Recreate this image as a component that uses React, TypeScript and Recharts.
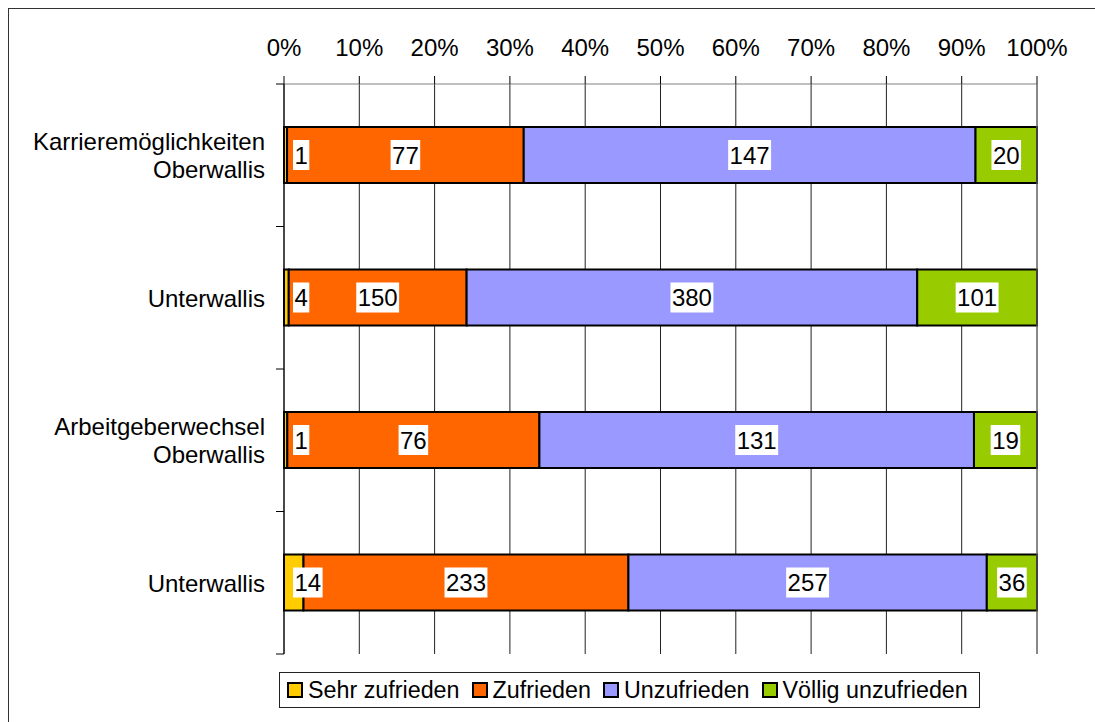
import { Bar, BarChart, CartesianGrid, LabelList, ReferenceLine, XAxis, YAxis } from "recharts";

const categories = [
  "Karrieremöglichkeiten\nOberwallis",
  "Unterwallis",
  "Arbeitgeberwechsel\nOberwallis",
  "Unterwallis",
];
const sehrZufrieden = [1, 4, 1, 14];
const zufrieden = [77, 150, 76, 233];
const unzufrieden = [147, 380, 131, 257];
const voelligUnzufrieden = [20, 101, 19, 36];
const xTicks = [0, 0.1, 0.2, 0.3, 0.4, 0.5, 0.6, 0.7, 0.8, 0.9, 1];

const series = [
  { key: "sehr", name: "Sehr zufrieden", color: "#FFCC00" },
  { key: "zufrieden", name: "Zufrieden", color: "#FF6600" },
  { key: "unzufrieden", name: "Unzufrieden", color: "#9999FF" },
  { key: "voellig", name: "Völlig unzufrieden", color: "#99CC00" },
];

const data = categories.map((name, i) => ({
  name,
  sehr: sehrZufrieden[i],
  zufrieden: zufrieden[i],
  unzufrieden: unzufrieden[i],
  voellig: voelligUnzufrieden[i],
}));

const FONT = '"Liberation Sans", Arial, sans-serif';
const FS = 24;
const PLOT_LEFT = 284;
const BAND = 142.5;

function CategoryTick({ x, y, payload, index }: any) {
  const lines = String(payload.value).split("\n");
  const lh = 28;
  const y0 = y - ((lines.length - 1) * lh) / 2;
  return (
    <g>
      <line x1={x - 8} x2={x} y1={y - BAND / 2} y2={y - BAND / 2} stroke="#000" />
      {index === categories.length - 1 && (
        <line x1={x - 8} x2={x} y1={y + BAND / 2} y2={y + BAND / 2} stroke="#000" />
      )}
      <text x={x - 19} y={y0} textAnchor="end" dominantBaseline="central" fontSize={FS} fill="#000" fontFamily={FONT}>
        {lines.map((l, i) => (
          <tspan key={i} x={x - 19} dy={i === 0 ? 0 : lh}>
            {l}
          </tspan>
        ))}
      </text>
    </g>
  );
}

function ValueLabel({ x, y, width, height, value }: any) {
  const text = String(value);
  const w = text.length * 13.3 + 3;
  const h = 30;
  const cx = x + width / 2;
  let left = cx - w / 2;
  if (left < PLOT_LEFT + 9) left = PLOT_LEFT + 9;
  const cy = y + height / 2;
  return (
    <g>
      <rect x={left} y={cy - h / 2} width={w} height={h} fill="#fff" />
      <text x={left + w / 2} y={cy} textAnchor="middle" dominantBaseline="central" fontSize={FS} fill="#000" fontFamily={FONT}>
        {text}
      </text>
    </g>
  );
}

export default function App() {
  return (
    <div style={{ position: "absolute", left: 0, top: 0, width: 1095, height: 722, overflow: "hidden", background: "#fff", fontFamily: FONT }}>
      <div style={{ position: "absolute", left: 8, top: 8, width: 1100, height: 730, border: "1px solid #333" }} />
      <div style={{ position: "absolute", left: 0, top: 0 }}>
        <BarChart
          width={1095}
          height={722}
          data={data}
          layout="vertical"
          stackOffset="expand"
          barSize={56}
          margin={{ top: 44, right: 58, left: 14, bottom: 68 }}
        >
          <CartesianGrid horizontal={false} vertical stroke="#222" />
          <XAxis
            type="number"
            orientation="top"
            domain={[0, 1]}
            ticks={xTicks}
            height={40}
            tickSize={8}
            tickMargin={20}
            tickFormatter={(v: number) => `${Math.round(v * 100)}%`}
            tick={{ fill: "#000", fontSize: FS, fontFamily: FONT }}
            tickLine={{ stroke: "#000" }}
            axisLine={{ stroke: "#808080" }}
            interval={0}
          />
          <XAxis
            xAxisId="bottom"
            type="number"
            orientation="bottom"
            domain={[0, 1]}
            height={0}
            tick={false}
            tickLine={false}
            axisLine={{ stroke: "#808080" }}
          />
          <YAxis
            type="category"
            dataKey="name"
            width={270}
            tickSize={0}
            tickMargin={0}
            tickLine={false}
            axisLine={{ stroke: "#000" }}
            tick={<CategoryTick />}
            interval={0}
          />
          <ReferenceLine x={1} stroke="#808080" />
          {series.map((s) => (
            <Bar
              key={s.key}
              dataKey={s.key}
              name={s.name}
              stackId="a"
              fill={s.color}
              stroke="#000"
              strokeWidth={2}
              isAnimationActive={false}
            >
              <LabelList dataKey={s.key} content={<ValueLabel />} />
            </Bar>
          ))}
        </BarChart>
      </div>
      <div
        style={{
          position: "absolute",
          left: 279,
          top: 672,
          width: 701,
          height: 36,
          boxSizing: "border-box",
          border: "1px solid #222",
          display: "flex",
          alignItems: "center",
          paddingLeft: 7,
          fontSize: 23.3,
          color: "#000",
        }}
      >
        {series.map((s) => (
          <div key={s.key} style={{ display: "flex", alignItems: "center", marginRight: 12 }}>
            <span style={{ display: "inline-block", width: 16, height: 16, boxSizing: "border-box", border: "2px solid #000", background: s.color, marginRight: 5 }} />
            <span style={{ whiteSpace: "nowrap" }}>{s.name}</span>
          </div>
        ))}
      </div>
    </div>
  );
}
